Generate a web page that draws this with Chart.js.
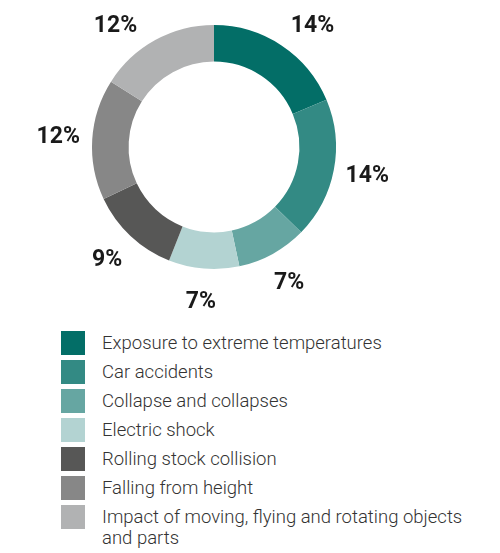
<!DOCTYPE html>
<html>
<head>
<meta charset="utf-8">
<script src="https://cdn.jsdelivr.net/npm/chart.js@4"></script>
<style>
  html, body { margin: 0; padding: 0; background: #fff; }
  body { width: 500px; height: 553px; position: relative; overflow: hidden; font-family: Roboto, "Noto Sans", sans-serif; }
  #chartBox { position: absolute; left: 0; top: 0; width: 500px; height: 320px; }
  #legend { position: absolute; left: 61px; top: 331px; margin: 0; padding: 0; list-style: none; }
  #legend li { display: flex; align-items: flex-start; margin-bottom: 5px; }
  #legend .sw { width: 24px; height: 24px; flex: 0 0 24px; }
  #legend .tx { margin-left: 17px; margin-top: 2px; width: 385px; font-size: 18.5px; font-weight: 300; line-height: 21px; color: #333; }
</style>
</head>
<body>
<div id="chartBox"><canvas id="c"></canvas></div>
<ul id="legend"></ul>
<script>
// Causes of accidents, share in percent
const categories = [
  'Exposure to extreme temperatures',
  'Car accidents',
  'Collapse and collapses',
  'Electric shock',
  'Rolling stock collision',
  'Falling from height',
  'Impact of moving, flying and rotating objects and parts'
];
const shares = [14, 14, 7, 7, 9, 12, 12];
const sliceColors = ['#036e67', '#338a84', '#66a6a2', '#b3d3d2', '#575756', '#878787', '#b1b2b3'];

// Percent labels placed outside each slice, kept inside the top edge
const outerLabels = {
  id: 'outerLabels',
  afterDatasetsDraw(chart) {
    const ctx = chart.ctx;
    const meta = chart.getDatasetMeta(0);
    ctx.save();
    ctx.font = 'bold 23px Roboto, "Noto Sans", sans-serif';
    ctx.fillStyle = '#1a1a1a';
    ctx.textAlign = 'center';
    ctx.textBaseline = 'middle';
    meta.data.forEach((arc, i) => {
      const p = arc.getProps(['x', 'y', 'startAngle', 'endAngle', 'outerRadius'], true);
      const mid = (p.startAngle + p.endAngle) / 2;
      const r = p.outerRadius + 34;
      let lx = p.x + r * Math.cos(mid);
      let ly = p.y + r * Math.sin(mid);
      const minY = 26;
      if (ly < minY) {
        const dy = p.y - minY;
        const dx = Math.sqrt(Math.max(r * r - dy * dy, 0));
        lx = p.x + (Math.cos(mid) >= 0 ? dx : -dx);
        ly = minY;
      }
      ctx.fillText(shares[i] + '%', lx, ly);
    });
    ctx.restore();
  }
};

const chart = new Chart(document.getElementById('c'), {
  type: 'doughnut',
  data: {
    labels: categories,
    datasets: [{
      data: shares,
      backgroundColor: sliceColors,
      borderWidth: 0
    }]
  },
  options: {
    responsive: true,
    maintainAspectRatio: false,
    animation: false,
    cutout: '70%',
    layout: { padding: { left: 92, top: 25, right: 164, bottom: 51 } },
    plugins: {
      legend: { display: false },
      tooltip: { enabled: false }
    }
  },
  plugins: [outerLabels]
});

// Legend list built from the chart's own labels and colours
const legendEl = document.getElementById('legend');
chart.data.labels.forEach((name, i) => {
  const li = document.createElement('li');
  const sw = document.createElement('span');
  sw.className = 'sw';
  sw.style.background = chart.data.datasets[0].backgroundColor[i];
  const tx = document.createElement('span');
  tx.className = 'tx';
  tx.textContent = name;
  li.appendChild(sw);
  li.appendChild(tx);
  legendEl.appendChild(li);
});
</script>
</body>
</html>
